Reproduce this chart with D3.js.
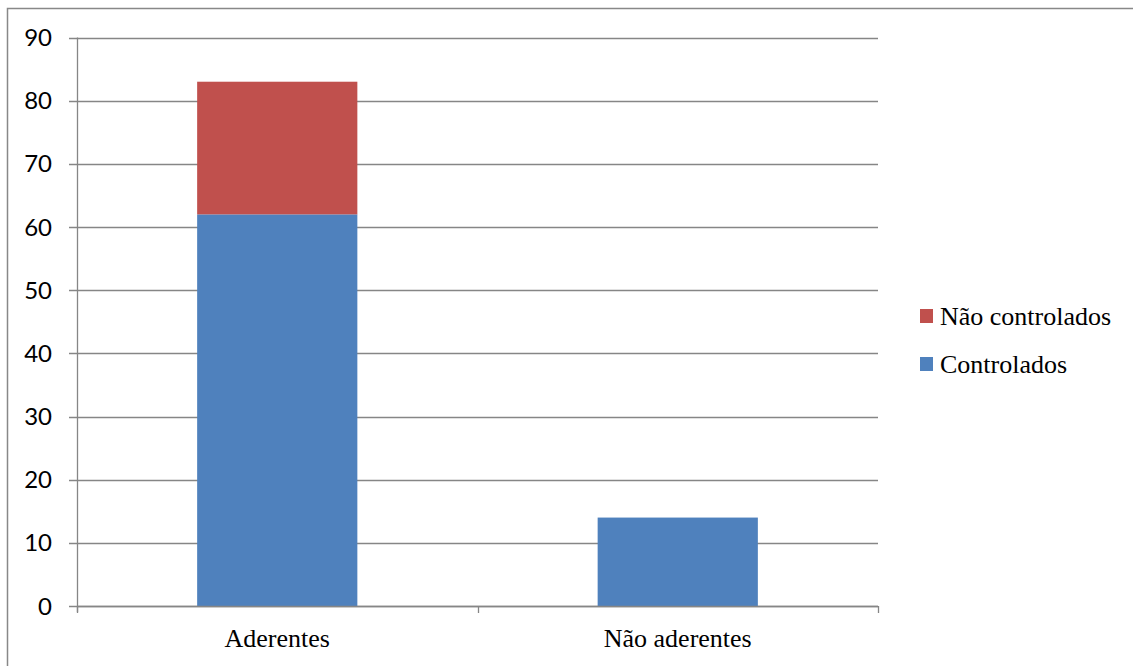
<!DOCTYPE html>
<html>
<head>
<meta charset="utf-8">
<script src="https://cdn.jsdelivr.net/npm/d3@7"></script>
<style>
  html, body { margin: 0; padding: 0; background: #fff; }
  svg { display: block; }
</style>
</head>
<body>
<svg id="chart" width="1133" height="666"></svg>
<script>
// Stacked bar data: patients grouped by adherence, split by control status
const categories = ["Aderentes", "Não aderentes"];
const controlados = [62, 14];
const naoControlados = [21, 0];
const seriesNames = ["Controlados", "Não controlados"];
const seriesColors = ["#4F81BD", "#C0504D"];
const yTicks = [0, 10, 20, 30, 40, 50, 60, 70, 80, 90];

const svg = d3.select("#chart");
const W = 1133, H = 666;
const plot = { left: 77, right: 878, top: 37.5, bottom: 606 };
const serif = "'Liberation Serif', 'Times New Roman', serif";

// Outer chart border
svg.append("rect")
  .attr("x", 7.5).attr("y", 8.5)
  .attr("width", W + 10).attr("height", H + 10)
  .attr("fill", "none").attr("stroke", "#888").attr("stroke-width", 1.5);

const rows = categories.map((c, i) => ({
  category: c,
  "Controlados": controlados[i],
  "Não controlados": naoControlados[i]
}));
const stacked = d3.stack().keys(seriesNames)(rows);

const x = d3.scaleBand().domain(categories).range([plot.left, plot.right]).paddingInner(0.6).paddingOuter(0.3);
const xOuter = d3.scaleBand().domain(categories).range([plot.left, plot.right]);
const y = d3.scaleLinear().domain([0, 90]).range([plot.bottom, plot.top]);

// Horizontal gridlines
svg.append("g").selectAll("line").data(yTicks).join("line")
  .attr("x1", plot.left - 8).attr("x2", plot.right)
  .attr("y1", d => Math.round(y(d)) + 0.5).attr("y2", d => Math.round(y(d)) + 0.5)
  .attr("stroke", "#868686").attr("stroke-width", 1.3);

// Y tick labels
svg.append("g").selectAll("text").data(yTicks).join("text")
  .attr("x", 52).attr("y", d => y(d))
  .attr("dy", "0.36em").attr("text-anchor", "end")
  .attr("font-family", "Lato, 'Open Sans', sans-serif").attr("font-size", 24)
  .attr("fill", "#000").text(d => d);

// Bars
svg.append("g").selectAll("g").data(stacked).join("g")
  .attr("fill", (d, i) => seriesColors[i])
  .selectAll("rect").data(d => d.filter(s => s[1] - s[0] > 0)).join("rect")
  .attr("x", d => x(d.data.category))
  .attr("width", x.bandwidth())
  .attr("y", d => y(d[1]))
  .attr("height", d => y(d[0]) - y(d[1]));

// Y axis line
svg.append("line")
  .attr("x1", plot.left + 0.5).attr("x2", plot.left + 0.5)
  .attr("y1", plot.top).attr("y2", plot.bottom + 6)
  .attr("stroke", "#868686").attr("stroke-width", 1.3);

// X axis line and category ticks
svg.append("line")
  .attr("x1", plot.left).attr("x2", plot.right)
  .attr("y1", Math.round(y(0)) + 0.5).attr("y2", Math.round(y(0)) + 0.5)
  .attr("stroke", "#868686").attr("stroke-width", 1.3);
const tickXs = categories.map(c => xOuter(c)).concat([plot.right]);
svg.append("g").selectAll("line").data(tickXs).join("line")
  .attr("x1", d => Math.round(d) + 0.5).attr("x2", d => Math.round(d) + 0.5)
  .attr("y1", y(0)).attr("y2", y(0) + 7)
  .attr("stroke", "#868686").attr("stroke-width", 1.3);

// Category labels
svg.append("g").selectAll("text").data(categories).join("text")
  .attr("x", d => xOuter(d) + xOuter.bandwidth() / 2)
  .attr("y", 647)
  .attr("text-anchor", "middle")
  .attr("font-family", serif).attr("font-size", 26)
  .attr("fill", "#000").text(d => d);

// Legend (top series listed first)
const legendItems = seriesNames.map((n, i) => ({ name: n, color: seriesColors[i] })).reverse();
const lg = svg.append("g").selectAll("g").data(legendItems).join("g")
  .attr("transform", (d, i) => `translate(920, ${309 + i * 48})`);
lg.append("rect").attr("width", 13).attr("height", 14).attr("fill", d => d.color);
lg.append("text")
  .attr("x", 20).attr("y", 16)
  .attr("font-family", serif).attr("font-size", 26)
  .attr("fill", "#000").text(d => d.name);
</script>
</body>
</html>
